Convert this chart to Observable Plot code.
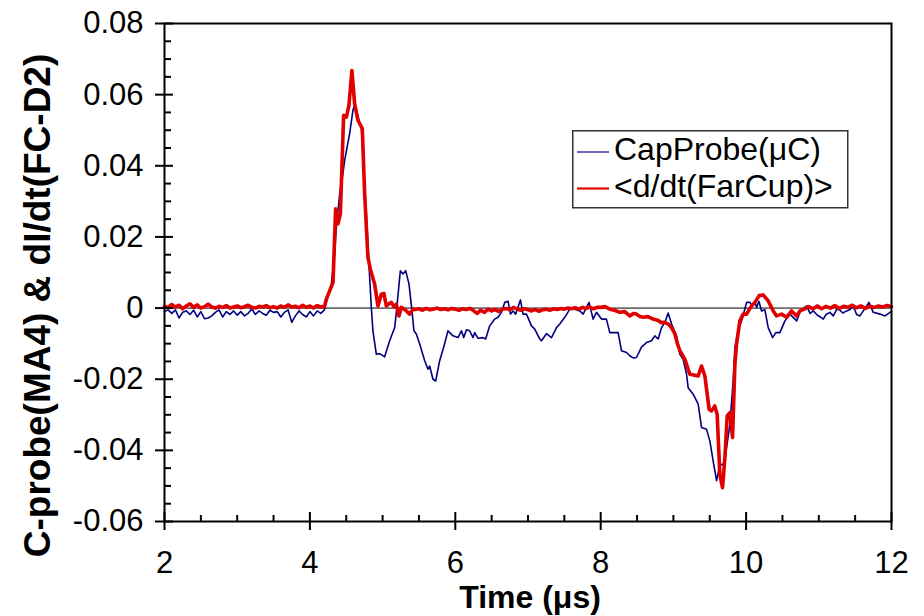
<!DOCTYPE html>
<html>
<head>
<meta charset="utf-8">
<script src="https://cdn.jsdelivr.net/npm/d3@7"></script>
<script src="https://cdn.jsdelivr.net/npm/@observablehq/plot@0.6"></script>
<style>
  html, body { margin: 0; padding: 0; background: #fff; overflow: hidden; }
  #chart { position: relative; width: 924px; height: 616px; font-family: "Liberation Sans", Arial, sans-serif; }
  #legend { position: absolute; left: 572px; top: 130px; }
</style>
</head>
<body>
<div id="chart"></div>
<script>
// Capacitive probe signal (MA4), time in µs
const capT = [
  2.00, 2.05, 2.10, 2.15, 2.20, 2.25, 2.30, 2.35, 2.40, 2.45, 2.50, 2.55, 2.60, 2.65, 2.70,
  2.75, 2.80, 2.85, 2.90, 2.95, 3.00, 3.05, 3.10, 3.15, 3.20, 3.25, 3.30, 3.35, 3.40, 3.45,
  3.50, 3.55, 3.60, 3.65, 3.70, 3.75, 3.80, 3.85, 3.90, 3.95, 4.00, 4.05, 4.10, 4.15, 4.20,
  4.226, 4.295, 4.34, 4.363, 4.409, 4.454, 4.478, 4.546, 4.592, 4.615, 4.661, 4.684, 4.707,
  4.776, 4.822, 4.845, 4.867, 4.914, 4.96, 5.028, 5.097, 5.166, 5.189, 5.244, 5.280, 5.317,
  5.363, 5.409, 5.431, 5.464, 5.510, 5.579, 5.624, 5.647, 5.693, 5.730, 5.785, 5.84, 5.899,
  5.968, 6.037, 6.084, 6.116, 6.153, 6.198, 6.244, 6.267, 6.313, 6.381, 6.418, 6.473, 6.542,
  6.588, 6.635, 6.680, 6.726, 6.759, 6.794, 6.831, 6.896, 6.932, 6.979, 7.048, 7.093, 7.162,
  7.185, 7.254, 7.323, 7.392, 7.437, 7.506, 7.575, 7.644, 7.712, 7.758, 7.805, 7.840, 7.873,
  7.895, 7.942, 8.011, 8.079, 8.125, 8.240, 8.286, 8.355, 8.400, 8.446, 8.492, 8.561, 8.630,
  8.699, 8.744, 8.790, 8.837, 8.882, 8.928, 8.975, 9.043, 9.089, 9.134, 9.181, 9.203, 9.272,
  9.341, 9.387, 9.456, 9.502, 9.547, 9.594, 9.639, 9.685, 9.731, 9.777, 9.822, 9.846, 9.891,
  9.938, 10.007, 10.052, 10.084, 10.121, 10.145, 10.176, 10.213, 10.259, 10.304, 10.365,
  10.410, 10.465, 10.534, 10.603, 10.695, 10.740, 10.78, 10.833, 10.88, 10.924, 10.98, 11.02,
  11.061, 11.10, 11.153, 11.199, 11.25, 11.291, 11.33, 11.383, 11.43, 11.474, 11.52, 11.566,
  11.612, 11.690, 11.749, 11.842, 11.911, 11.979, 12.00
];
const capV = [
  -0.0010, -0.0005, -0.0015, -0.0005, -0.0028, -0.0012, -0.0008, -0.0018, -0.0006, -0.0025,
  -0.0010, -0.0030, -0.0028, -0.0022, -0.0012, -0.0005, -0.0025, -0.0010, -0.0018, -0.0008,
  -0.0020, -0.0010, -0.0022, -0.0015, -0.0002, -0.0018, -0.0008, -0.0015, -0.0020, -0.0006,
  -0.0012, -0.0010, -0.0025, -0.0012, -0.0005, -0.0040, -0.0022, -0.0008, -0.0018, -0.0025,
  -0.0010, -0.0022, -0.0008, -0.0015, -0.0005,
  0.0016, 0.0068, 0.0150, 0.0227, 0.0320, 0.0377, 0.0415, 0.0490, 0.0556, 0.0570, 0.0540,
  0.0518, 0.0510, 0.0265, 0.0086, 0.0002, -0.0064, -0.0130, -0.0128, -0.0137, -0.0092,
  -0.0055, -0.0012, 0.0105, 0.0096, 0.0105, 0.0068, -0.0017, -0.0064, -0.0073, -0.0101,
  -0.0148, -0.0172, -0.0163, -0.0200, -0.0205, -0.0148, -0.0110, -0.0064, -0.0078, -0.0083,
  -0.0064, -0.0083, -0.0061, -0.0064, -0.0083, -0.0069, -0.0085, -0.0083, -0.0087, -0.0050,
  -0.0031, -0.0026, -0.0012, 0.0016, 0.0019, -0.0017, -0.0008, -0.0017, 0.0023, -0.0017,
  -0.0017, -0.0050, -0.0059, -0.0087, -0.0092, -0.0072, -0.0083, -0.0055, -0.0045, -0.0026,
  -0.0003, -0.0003, -0.0008, -0.0017, 0.0002, 0.0016, -0.0012, -0.0031, -0.0012, -0.0031,
  -0.0031, -0.0069, -0.0069, -0.0120, -0.0125, -0.0134, -0.0140, -0.0139, -0.0110, -0.0097,
  -0.0092, -0.0078, -0.0087, -0.0055, -0.0041, -0.0014, -0.0045, -0.0078, -0.0130, -0.0144,
  -0.0186, -0.0224, -0.0242, -0.0270, -0.0336, -0.0341, -0.0374, -0.0430, -0.0485, -0.0440,
  -0.0440, -0.0393, -0.0327, -0.0205, -0.0110, -0.0064, -0.0036, 0.0016, 0.0016, 0.0006,
  0.0016, 0.0002, 0.0019, -0.0008, -0.0005, -0.0055, -0.0083, -0.0069, -0.0069, -0.0036,
  -0.0017, -0.0036, -0.0012, -0.0002, 0.0006, -0.0015, -0.0008, -0.0020, -0.0025, -0.0031,
  -0.0018, -0.0012, -0.0022, -0.0002, -0.0006, -0.0014, -0.0008, -0.0004, 0.0006, -0.0018,
  -0.0022, -0.0008, 0.0016, -0.0012, -0.0017, -0.0022, -0.0012, -0.0010
];

// Averaged time derivative of the Faraday cup current (FC-D2)
const cupT = [
  2.00, 2.05, 2.10, 2.15, 2.20, 2.25, 2.30, 2.35, 2.40, 2.45, 2.50, 2.55, 2.60, 2.65, 2.70,
  2.75, 2.80, 2.85, 2.90, 2.95, 3.00, 3.05, 3.10, 3.15, 3.20, 3.25, 3.30, 3.35, 3.40, 3.45,
  3.50, 3.55, 3.60, 3.65, 3.70, 3.75, 3.80, 3.85, 3.90, 3.95, 4.00, 4.05, 4.10, 4.15, 4.20,
  4.226, 4.318, 4.354, 4.386, 4.419, 4.464, 4.502, 4.537, 4.578, 4.615, 4.661, 4.721, 4.753,
  4.798, 4.831, 4.890, 4.936, 4.982, 5.018, 5.051, 5.085, 5.120, 5.155, 5.189, 5.225, 5.258,
  5.290, 5.327, 5.372, 5.418,
  5.45, 5.50, 5.55, 5.60, 5.65, 5.70, 5.75, 5.80, 5.85, 5.90, 5.95, 6.00, 6.05, 6.10, 6.15,
  6.20, 6.25, 6.30, 6.35, 6.40, 6.45, 6.50, 6.55, 6.60, 6.65, 6.70, 6.75, 6.80, 6.85, 6.90,
  6.95, 7.00, 7.05, 7.10, 7.15, 7.20, 7.25, 7.30, 7.35, 7.40, 7.45, 7.50, 7.55, 7.60, 7.65,
  7.70, 7.75, 7.80, 7.85, 7.90, 7.95,
  8.00, 8.06, 8.125, 8.19, 8.263, 8.33, 8.400, 8.45, 8.492, 8.54, 8.584, 8.65, 8.721, 8.78,
  8.837, 8.88, 8.928, 8.975, 9.020, 9.055, 9.089, 9.158, 9.226, 9.28, 9.341, 9.387, 9.433,
  9.492, 9.525, 9.570, 9.602, 9.639, 9.676, 9.708, 9.740, 9.777, 9.814, 9.846, 9.869, 9.914,
  9.960, 10.007, 10.04, 10.075, 10.121, 10.180, 10.235, 10.304, 10.373, 10.419, 10.488,
  10.557, 10.625, 10.695, 10.740,
  10.80, 10.86, 10.92, 10.98, 11.04, 11.10, 11.16, 11.22, 11.28, 11.34, 11.40, 11.46, 11.52,
  11.58, 11.64, 11.70, 11.76, 11.82, 11.88, 11.94, 12.00
];
const cupV = [
  0.0005, 0.0002, 0.0010, 0.0003, 0.0008, -0.0002, 0.0006, 0.0012, 0.0002, 0.0009,
  0.0000, 0.0004, 0.0011, 0.0003, 0.0000, 0.0005, 0.0002, 0.0007, 0.0000, 0.0003,
  0.0006, 0.0001, 0.0004, 0.0008, 0.0002, 0.0000, 0.0005, 0.0003, 0.0007, 0.0001,
  0.0004, 0.0000, 0.0006, 0.0002, 0.0009, 0.0003, 0.0005, 0.0001, 0.0008, 0.0002,
  0.0006, 0.0000, 0.0007, 0.0003, 0.0005,
  0.0025, 0.0072, 0.0279, 0.0237, 0.0265, 0.0542, 0.0537, 0.0570, 0.0668, 0.0575, 0.0528,
  0.0504, 0.0321, 0.0143, 0.0110, 0.0068, 0.0006, 0.0039, 0.0041, 0.0006, 0.0012, 0.0016,
  0.0004, 0.0011, -0.0022, 0.0002, -0.0002, -0.0008, -0.0017, -0.0003,
  -0.0004, -0.0002, -0.0006, -0.0001, -0.0005, -0.0003, 0.0000, -0.0004, -0.0002, -0.0005,
  -0.0001, -0.0003, -0.0006, -0.0002, -0.0004, -0.0001, -0.0007, -0.0015, -0.0006, -0.0012,
  -0.0003, -0.0008, -0.0004, -0.0010, -0.0003, -0.0001, -0.0005, 0.0002, -0.0003, -0.0006,
  -0.0002, -0.0005, -0.0008, -0.0004, -0.0009, -0.0005, -0.0003, -0.0006, -0.0002, -0.0004,
  -0.0001, -0.0003, 0.0000, -0.0002, 0.0001, -0.0003, 0.0002, -0.0001, 0.0003, -0.0002,
  0.0002,
  0.0002, 0.0004, -0.0003, -0.0006, -0.0012, -0.0010, -0.0022, -0.0015, -0.0017, -0.0024,
  -0.0026, -0.0024, -0.0031, -0.0034, -0.0041, -0.0040, -0.0045, -0.0055, -0.0073, -0.0100,
  -0.0120, -0.0144, -0.0186, -0.0188, -0.0191, -0.0163, -0.0191, -0.0285, -0.0289, -0.0275,
  -0.0299, -0.0468, -0.0505, -0.0421, -0.0303, -0.0294, -0.0364, -0.0158, -0.0101, -0.0036,
  -0.0017, -0.0017, -0.0005, 0.0006, 0.0016, 0.0035, 0.0037, 0.0020, -0.0008, -0.0022,
  -0.0017, -0.0026, -0.0008, -0.0022, -0.0008,
  -0.0003, 0.0004, -0.0002, 0.0006, -0.0002, 0.0005, 0.0000, 0.0007, -0.0001, 0.0005,
  0.0002, 0.0008, 0.0001, 0.0006, -0.0001, 0.0005, 0.0002, 0.0006, 0.0003, 0.0007, 0.0004
];

const seriesNames = ["CapProbe(\u03bcC)", "<d/dt(FarCup)>"];
const seriesColors = ["#000080", "#e00000"];

// Axis ticks
const xMajor = [2, 4, 6, 8, 10, 12];
const yMajor = [-0.06, -0.04, -0.02, 0, 0.02, 0.04, 0.06, 0.08];
const xMinor = d3.range(2.5, 12, 0.5).filter(v => Math.abs(v / 2 - Math.round(v / 2)) > 1e-6);
const yMinor = d3.range(-11, 16).map(k => k * 0.005).filter(v => Math.abs(v / 0.02 - Math.round(v / 0.02)) > 1e-6);

const xTitle = "Time (\u03bcs)";
const yTitle = "C-probe(MA4) & dI/dt(FC-D2)";

const capData = capT.map((t, i) => ({t, v: capV[i]}));
const cupData = cupT.map((t, i) => ({t, v: cupV[i]}));

const W = 924, H = 616;
const M = {top: 23, right: 33, bottom: 95, left: 164};
const plotW = W - M.left - M.right;
const plotH = H - M.top - M.bottom;
const font = "'Liberation Sans', Arial, sans-serif";

const chart = Plot.plot({
  width: W,
  height: H,
  marginTop: M.top,
  marginRight: M.right,
  marginBottom: M.bottom,
  marginLeft: M.left,
  x: {domain: [2, 12]},
  y: {domain: [-0.06, 0.08]},
  style: {fontFamily: font, fontSize: "31px", color: "black", background: "white"},
  marks: [
    Plot.ruleY([0], {stroke: "black", strokeWidth: 1}),
    Plot.line(capData, {x: "t", y: "v", stroke: seriesColors[0], strokeWidth: 1.6}),
    Plot.line(cupData, {x: "t", y: "v", stroke: seriesColors[1], strokeWidth: 3.6, strokeLinejoin: "round"}),
    Plot.frame({stroke: "black", strokeWidth: 2}),
    Plot.tickX(xMajor, {x: d => d, stroke: "black", strokeWidth: 2, insetTop: plotH - 9, insetBottom: -9}),
    Plot.tickX(xMinor, {x: d => d, stroke: "black", strokeWidth: 2, insetTop: plotH - 6}),
    Plot.tickY(yMajor, {y: d => d, stroke: "black", strokeWidth: 2, insetRight: plotW - 9, insetLeft: -9}),
    Plot.tickY(yMinor, {y: d => d, stroke: "black", strokeWidth: 2, insetRight: plotW - 7}),
    Plot.axisX(xMajor, {tickSize: 0, tickPadding: 29, label: null, tickFormat: d => String(d)}),
    Plot.axisY(yMajor, {tickSize: 0, tickPadding: 21, label: null, tickFormat: d => d === 0 ? "0" : d.toFixed(2)}),
    Plot.text([xTitle], {text: d => d, frameAnchor: "bottom", textAnchor: "middle", lineAnchor: "middle",
      dx: 2, dy: 76, fontSize: 32, fontWeight: "bold"}),
    Plot.text([yTitle], {text: d => d, frameAnchor: "left", textAnchor: "middle", lineAnchor: "middle",
      rotate: -90, dx: -126, dy: 33, fontSize: 37, fontWeight: "bold"})
  ]
});

const root = document.getElementById("chart");
root.appendChild(chart);

// Legend box inside the plot area
const lg = d3.create("svg").attr("id", "legend").attr("width", 280).attr("height", 80);
lg.append("rect").attr("x", 0.75).attr("y", 0.75).attr("width", 275).attr("height", 77)
  .attr("fill", "white").attr("stroke", "#333").attr("stroke-width", 1.5);
const rows = lg.selectAll("g").data(seriesNames).join("g")
  .attr("transform", (d, i) => `translate(0, ${22 + i * 36.5})`);
rows.append("line").attr("x1", 5).attr("x2", 37)
  .attr("stroke", (d, i) => seriesColors[i]).attr("stroke-width", (d, i) => i === 0 ? 1.2 : 2.2);
rows.append("text").attr("x", 42).attr("y", 8).text(d => d)
  .attr("font-family", font).attr("font-size", 32).attr("fill", "black");
root.appendChild(lg.node());
</script>
</body>
</html>
